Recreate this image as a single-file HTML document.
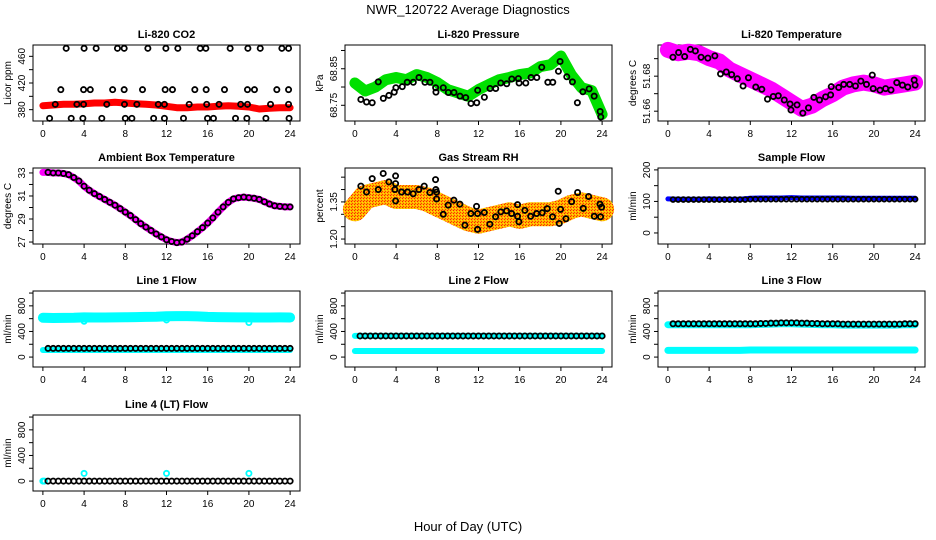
<!DOCTYPE html>
<html><head><meta charset="utf-8"><style>
html,body{margin:0;padding:0;background:#fff;}
svg{display:block;font-family:"Liberation Sans",sans-serif;}
</style></head><body>
<svg id="c" width="936" height="540" viewBox="0 0 936 540">
<defs>
<pattern id="rhpat" width="3" height="3" patternUnits="userSpaceOnUse"><rect width="3" height="3" fill="#ffb000"/><rect width="1" height="1" fill="#ff2000"/><rect x="2" y="1" width="1" height="1" fill="#ffe000"/><rect x="1" y="2" width="1" height="1" fill="#ff4000"/></pattern>
</defs>
<text x="468" y="14" text-anchor="middle" font-size="13">NWR_120722  Average Diagnostics</text>
<text x="468" y="531" text-anchor="middle" font-size="13">Hour of Day (UTC)</text>
</svg>
<script>
// ---- data ----
const hoursH = [0,1,2,3,4,5,6,7,8,9,10,11,12,13,14,15,16,17,18,19,20,21,22,23,24];
const co2Band = [386,387,388,388,389,390,390,391,390,389,388,387,385,383,383,384,384,385,386,385,384,381,382,383,383];
const co2BlkHours = [2.26,4.0,5.17,7.24,7.89,10.19,11.94,13.1,15.27,15.82,18.18,19.9,21.1,23.2,23.85,
 1.74,3.95,4.6,6.77,7.89,9.67,11.87,12.58,14.75,15.85,17.63,19.86,20.54,22.71,23.85,
 1.2,3.3,3.95,6.2,7.92,9.12,11.2,11.8,14.2,15.9,17.1,19.2,19.86,22.1,23.85,
 0.65,2.75,3.88,5.72,8.0,8.64,10.75,11.8,13.65,15.98,16.56,18.7,19.8,21.65,23.9];
const co2BlkVals = [472,472,472,472,472,472,472,472,472,472,472,472,472,472,472,
 410,410,410,410,410,410,410,410,410,410,410,410,410,410,410,
 388,388,388,388,388,388,388,388,388,388,388,388,388,388,388,
 367,367,367,367,367,367,367,367,367,367,367,367,367,367,367];

const presBand = [68.811,68.789,68.800,68.820,68.826,68.820,68.834,68.826,68.812,68.793,68.784,68.775,68.793,68.807,68.820,68.826,68.834,68.838,68.856,68.861,68.885,68.834,68.798,68.790,68.725];
const presBlkHours = [0.58,1.13,1.68,2.27,2.76,3.3,3.82,3.98,4.6,5.08,5.67,6.22,6.8,7.29,7.84,7.87,8.58,9.07,9.62,10.2,10.76,11.27,11.83,11.92,12.57,13.12,13.67,14.16,14.74,15.23,15.87,15.94,16.59,17.1,17.66,18.14,18.73,19.21,19.76,19.92,20.57,21.12,21.6,22.13,22.74,23.23,23.81,23.87];
const presBlkVals = [68.766,68.759,68.757,68.814,68.769,68.777,68.786,68.798,68.801,68.813,68.813,68.826,68.813,68.813,68.798,68.786,68.798,68.785,68.785,68.775,68.771,68.755,68.757,68.791,68.772,68.796,68.796,68.811,68.809,68.822,68.823,68.811,68.811,68.826,68.826,68.854,68.813,68.813,68.843,68.870,68.828,68.814,68.757,68.787,68.795,68.775,68.733,68.718];

const tempBand = [51.6950,51.6931,51.6940,51.6931,51.6903,51.6884,51.6837,51.6809,51.6781,51.6753,51.6725,51.6688,51.6650,51.6613,51.6632,51.6669,51.6697,51.6735,51.6753,51.6763,51.6753,51.6735,51.6744,51.6753,51.6763];
const tempBlkHours = [0.49,1.04,1.63,2.18,2.67,3.22,3.88,4.56,5.11,5.67,6.19,6.74,7.3,7.82,8.53,9.12,9.67,10.23,10.72,11.3,11.86,11.95,12.54,13.1,13.65,14.17,14.72,15.31,15.8,15.86,16.58,17.07,17.65,18.21,18.73,19.28,19.84,19.93,20.59,21.14,21.66,22.22,22.77,23.29,23.91,24.0];
const tempBlkVals = [51.6908,51.6935,51.6912,51.6953,51.6944,51.6908,51.6903,51.6916,51.6813,51.6824,51.6809,51.6785,51.6744,51.6791,51.6738,51.6725,51.6669,51.6684,51.6688,51.6664,51.6641,51.6607,51.6636,51.6589,51.6619,51.6679,51.6664,51.6682,51.6693,51.6740,51.6735,51.6753,51.6753,51.6744,51.6772,51.6753,51.6806,51.6729,51.6720,51.6729,51.6721,51.6763,51.6749,51.6738,51.6778,51.6749];

const ambVals = [33.05,33.05,33.0,33.0,32.95,32.85,32.6,32.3,31.85,31.5,31.2,30.95,30.7,30.45,30.2,29.9,29.6,29.3,28.95,28.6,28.3,28.0,27.7,27.45,27.2,27.05,26.95,27.0,27.25,27.55,27.9,28.25,28.65,29.1,29.6,30.05,30.45,30.75,30.85,30.9,30.85,30.8,30.7,30.5,30.3,30.15,30.1,30.05,30.05];

const rhBand = [1.32,1.37,1.38,1.39,1.37,1.37,1.37,1.36,1.34,1.32,1.30,1.28,1.27,1.28,1.29,1.30,1.29,1.30,1.30,1.30,1.31,1.33,1.34,1.33,1.32];
const rhBlkHours = [0.58,1.13,1.68,2.27,2.75,3.3,3.88,3.95,3.95,3.95,4.53,5.11,5.66,6.21,6.73,7.28,7.83,7.86,7.93,7.93,8.58,9.06,9.61,10.19,10.68,11.26,11.81,11.91,11.91,12.56,13.1,13.66,14.17,14.72,15.21,15.79,15.79,15.92,16.5,17.06,17.64,18.19,18.67,19.19,19.74,19.84,19.97,20.49,21.04,21.62,22.17,22.69,23.24,23.79,23.85,23.95];
const rhBlkVals = [1.414,1.39,1.444,1.40,1.465,1.431,1.40,1.455,1.424,1.354,1.39,1.39,1.383,1.40,1.414,1.388,1.44,1.40,1.39,1.362,1.30,1.337,1.357,1.341,1.256,1.303,1.332,1.239,1.303,1.307,1.26,1.29,1.31,1.314,1.303,1.339,1.292,1.27,1.316,1.292,1.303,1.306,1.323,1.29,1.393,1.263,1.32,1.282,1.351,1.388,1.324,1.372,1.292,1.341,1.29,1.329];

const sampleBlue = [108,107,107,107,108,107,107,107,110,111,111,111,112,111,111,111,111,111,110,110,110,110,110,110,110];
const sampleBlk = [106,106,106,106,106,106,106,106,107,107,107,107,107,107,107,107,107,107,107,107,107,107,107,107,107];
const l1CyanHi = [615,610,612,613,620,618,618,620,622,625,628,630,638,640,640,635,628,625,622,620,620,618,618,620,618];
const l1CyanLo = [110,110,110,110,110,110,110,110,110,110,110,110,110,110,110,110,110,110,110,110,110,110,110,110,110];
const l1Blk = [135,135,135,135,135,135,135,135,135,135,135,135,135,135,135,135,135,135,135,135,135,135,135,135,135];
const l2CyanHi = [330,330,330,330,330,330,330,330,330,330,330,330,330,330,330,330,330,330,330,330,330,330,330,330,330];
const l2CyanLo = [95,95,95,95,95,95,95,95,95,95,95,95,95,95,95,95,95,95,95,95,95,95,95,95,95];
const l2Blk = [330,330,330,330,330,330,330,330,330,330,330,330,330,330,330,330,330,330,330,330,330,330,330,330,330];
const l3CyanHi = [505,505,505,505,505,505,505,505,505,510,515,520,520,515,510,505,505,500,500,500,500,500,500,505,505];
const l3CyanLo = [105,105,105,105,105,105,105,105,110,110,110,110,110,110,110,110,110,110,110,110,110,110,110,110,110];
const l3Blk = [520,520,520,520,520,520,520,520,520,525,530,535,535,530,525,520,520,515,515,515,515,515,515,520,520];
const l4Blk = [0,0,0,0,0,0,0,0,0,0,0,0,0,0,0,0,0,0,0,0,0,0,0,0,0];
const outlierHours = [4,12,20];
const l1Outliers = [560,580,540];
const l4Outliers = [120,120,120];
const xTicks = [0,4,8,12,16,20,24];

// ---- drawing ----
const svg = document.getElementById('c');
const NS = 'http://www.w3.org/2000/svg';
function mk(tag, attrs, parent){const e=document.createElementNS(NS,tag);for(const k in attrs)e.setAttribute(k,attrs[k]);(parent||svg).appendChild(e);return e;}
const colL=[33,345,658], rowT=[45,168,291,415], W=267, H=76;

function panel(col,row,title,ylab,ylim,yticks,ylabels,name){
  const g=mk('g',{});
  
  
  const L=colL[col],T=rowT[row];
  const xs=h=>L+(h+0.96)/25.92*W;
  const ys=v=>T+H-(v-ylim[0])/(ylim[1]-ylim[0])*H;
  const box=mk('rect',{x:L,y:T,width:W,height:H,fill:'none',stroke:'#000','stroke-width':1},g);
  
  
  const t=mk('text',{x:L+W/2,y:T-7,'text-anchor':'middle','font-size':11,'font-weight':'bold'},g);
  t.textContent=title;
  
  
  const xa=mk('g',{},g);
  
  
  mk('line',{x1:xs(0),x2:xs(24),y1:T+H,y2:T+H,stroke:'#000'},xa);
  xTicks.forEach(v=>{mk('line',{x1:xs(v),x2:xs(v),y1:T+H,y2:T+H+4,stroke:'#000'},xa);
    const tl=mk('text',{x:xs(v),y:T+H+16,'text-anchor':'middle','font-size':10},xa);tl.textContent=v;});
  const ya=mk('g',{},g);
  
  
  yticks.forEach(v=>{mk('line',{x1:L-4,x2:L,y1:ys(v),y2:ys(v),stroke:'#000'},ya);});
  ylabels.forEach(v=>{const yl=mk('text',{x:0,y:0,'text-anchor':'middle','font-size':10,transform:`translate(${L-8},${ys(v)}) rotate(-90)`},ya);yl.textContent=v;});
  const yt=mk('text',{x:0,y:0,'text-anchor':'middle','font-size':10,transform:`translate(${L-22},${T+H/2}) rotate(-90)`},g);
  yt.textContent=ylab;
  
  
  return {g,xs,ys};
}
function band(p,hours,vals,color,w,name){
  const pts=hours.map((h,i)=>p.xs(h).toFixed(1)+','+p.ys(vals[i]).toFixed(1)).join(' ');
  const e=mk('polyline',{points:pts,fill:'none',stroke:color,'stroke-width':w,'stroke-linejoin':'round','stroke-linecap':'round'},p.g);
  
  
}
function circles(p,hours,vals,color,name,r){
  const g=mk('g',{},p.g);
  
  
  hours.forEach((h,i)=>{mk('circle',{cx:p.xs(h),cy:p.ys(vals[i]),r:r||2.6,fill:'none',stroke:color,'stroke-width':1.8},g);});
}
const halfHours = ambVals.map((v,i)=>i*0.5);

let p=panel(0,0,'Li-820 CO2','Licor ppm',[363,477],[380,400,420,440,460],[380,420,460],'co2');
band(p,hoursH,co2Band,'#ff0000',7,'co2-red-band');
circles(p,co2BlkHours,co2BlkVals,'#000','co2-black-points');

p=panel(1,0,'Li-820 Pressure','kPa',[68.707,68.915],[68.75,68.80,68.85,68.90],['68.75','68.85'],'pressure');
band(p,hoursH,presBand,'#00e000',11,'pressure-green-band');
circles(p,presBlkHours,presBlkVals,'#000','pressure-black-points');

p=panel(2,0,'Li-820 Temperature','degrees C',[51.6544,51.6978],[51.66,51.67,51.68,51.69],['51.66','51.68'],'temperature');
band(p,hoursH,tempBand,'#ff00ff',16,'temperature-magenta-band');
circles(p,tempBlkHours,tempBlkVals,'#000','temperature-black-points');

p=panel(0,1,'Ambient Box Temperature','degrees C',[26.83,33.43],[27,28,29,30,31,32,33],[27,29,31,33],'ambient');
band(p,halfHours,ambVals,'#ff00ff',7,'ambient-magenta-band');
circles(p,halfHours.slice(1),ambVals.slice(1),'#000','ambient-black-points');

p=panel(1,1,'Gas Stream RH','percent',[1.18,1.487],[1.20,1.25,1.30,1.35,1.40,1.45],['1.20','1.35'],'rh');
band(p,hoursH,rhBand,'url(#rhpat)',24,'rh-orange-band');
circles(p,rhBlkHours,rhBlkVals,'#000','rh-black-points');

p=panel(2,1,'Sample Flow','ml/min',[-35,206],[0,50,100,150,200],[0,100,200],'sample-flow');
band(p,hoursH,sampleBlue,'#0000ff',5,'sample-flow-blue-band');
circles(p,hoursH.map(h=>h+0.5).slice(0,24),sampleBlk.slice(0,24),'#000','sample-flow-black-points',2.4);
circles(p,hoursH.slice(1),sampleBlk.slice(1),'#000','sample-flow-black-points-2',2.4);

const fyl=[-155,1032], fyt=[0,200,400,600,800,1000], fyL=[0,400,800];
p=panel(0,2,'Line 1 Flow','ml/min',fyl,fyt,fyL,'line1-flow');
band(p,hoursH,l1CyanHi,'#00ffff',10,'line1-cyan-high');
band(p,hoursH,l1CyanLo,'#00ffff',6,'line1-cyan-low');
circles(p,outlierHours,l1Outliers,'#00ffff','line1-cyan-outliers');
circles(p,hoursH.map(h=>h+0.5).slice(0,24),l1Blk.slice(0,24),'#000','line1-black-points');
circles(p,hoursH.slice(1),l1Blk.slice(1),'#000','line1-black-points-2');

p=panel(1,2,'Line 2 Flow','ml/min',fyl,fyt,fyL,'line2-flow');
band(p,hoursH,l2CyanHi,'#00ffff',6,'line2-cyan-high');
band(p,hoursH,l2CyanLo,'#00ffff',6,'line2-cyan-low');
circles(p,hoursH.map(h=>h+0.5).slice(0,24),l2Blk.slice(0,24),'#000','line2-black-points');
circles(p,hoursH.slice(1),l2Blk.slice(1),'#000','line2-black-points-2');

p=panel(2,2,'Line 3 Flow','ml/min',fyl,fyt,fyL,'line3-flow');
band(p,hoursH,l3CyanHi,'#00ffff',7,'line3-cyan-high');
band(p,hoursH,l3CyanLo,'#00ffff',7,'line3-cyan-low');
circles(p,hoursH.map(h=>h+0.5).slice(0,24),l3Blk.slice(0,24),'#000','line3-black-points');
circles(p,hoursH.slice(1),l3Blk.slice(1),'#000','line3-black-points-2');

p=panel(0,3,'Line 4 (LT) Flow','ml/min',fyl,fyt,fyL,'line4-flow');
circles(p,[0,0.15],[0,0],'#00ffff','line4-cyan-start');
circles(p,outlierHours,l4Outliers,'#00ffff','line4-cyan-outliers');
circles(p,hoursH.map(h=>h+0.5).slice(0,24),l4Blk.slice(0,24),'#000','line4-black-points');
circles(p,hoursH.slice(1),l4Blk.slice(1),'#000','line4-black-points-2');
</script>
</body></html>
